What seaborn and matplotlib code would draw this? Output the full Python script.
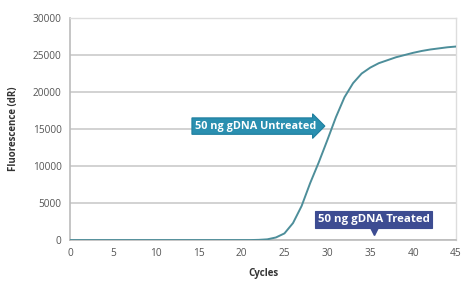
import numpy as np
import pandas as pd
import matplotlib
matplotlib.use("Agg")
import matplotlib.pyplot as plt
import seaborn as sns

cycles = list(range(0, 46))
fluorescence = [0] * 22 + [30, 100, 350, 900, 2300, 4600, 7700, 10500, 13500, 16600,
                           19300, 21200, 22500, 23300, 23900, 24300, 24700, 25000, 25300,
                           25550, 25750, 25900, 26050, 26150]
x_ticks = [0, 5, 10, 15, 20, 25, 30, 35, 40, 45]
y_ticks = [0, 5000, 10000, 15000, 20000, 25000, 30000]
label_untreated = "50 ng gDNA Untreated"
label_treated = "50 ng gDNA Treated"

df = pd.DataFrame({"Cycles": cycles, "Fluorescence": fluorescence})

sns.set_theme(style="white")
plt.rcParams["font.family"] = ["Open Sans", "DejaVu Sans"]

fig = plt.figure(figsize=(4.62, 2.91), dpi=100)
ax = fig.add_axes([0.1515, 0.175, 0.8355, 0.763])

sns.lineplot(data=df, x="Cycles", y="Fluorescence", ax=ax, color="#4d8e9a", linewidth=1.4, zorder=3)

ax.set_xlim(0, 45)
ax.set_ylim(0, 30000)
ax.set_xticks(x_ticks)
ax.set_yticks(y_ticks)
ax.set_xticklabels([str(v) for v in x_ticks], fontsize=7.3, color="#555555")
ax.set_yticklabels([str(v) for v in y_ticks], fontsize=7.3, color="#555555")
ax.tick_params(axis="both", length=0, pad=6)
ax.yaxis.grid(True, color="#cfcfcf", linewidth=1.3)
ax.xaxis.grid(False)
for s in ["top", "right"]:
    ax.spines[s].set_color("#dddddd")
    ax.spines[s].set_linewidth(1.0)
for s in ["left", "bottom"]:
    ax.spines[s].set_color("#bbbbbb")
    ax.spines[s].set_linewidth(1.2)

ax.set_xlabel("Cycles", fontsize=7, fontweight="bold", color="#333333", labelpad=6)
ax.set_ylabel("Fluorescence (dR)", fontsize=7, fontweight="bold", color="#333333", labelpad=10)

ax.text(21.6, 15400, label_untreated, fontsize=7.8, fontweight="bold", color="white",
        ha="center", va="center", zorder=5,
        bbox=dict(boxstyle="rarrow,pad=0.25", fc="#2a8fb0", ec="#1f7f9f", lw=0.8))

ax.text(35.4, 2800, label_treated, fontsize=8.2, fontweight="bold", color="white",
        ha="center", va="center", zorder=5,
        bbox=dict(boxstyle="square,pad=0.25", fc="#3d4c92", ec="#3d4c92", lw=0.8))
ax.plot([35.4], [1550], marker="v", markersize=8, color="#3d4c92", zorder=4, clip_on=False)

fig.savefig("out.png", dpi=100, facecolor="white")
